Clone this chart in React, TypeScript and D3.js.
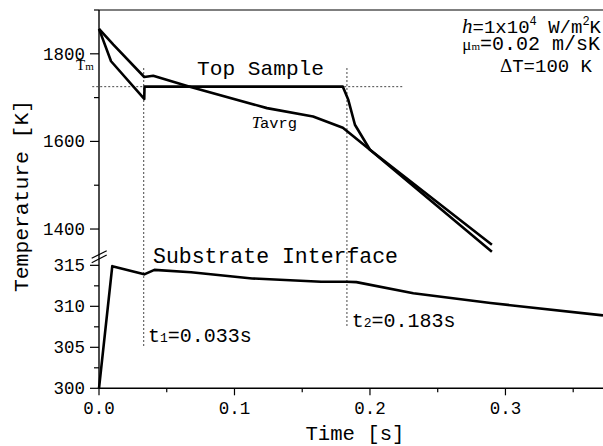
import React from "react";
import * as d3 from "d3";

// ---- data ----
const surfTime = [0, 0.0089, 0.0334, 0.0336, 0.180, 0.184, 0.1889, 0.200, 0.290];
const surfTemp = [1857, 1783, 1697, 1725, 1725, 1695, 1638, 1581, 1348];

const avgTime = [0, 0.0106, 0.0334, 0.040, 0.067, 0.124, 0.158, 0.180, 0.200, 0.290];
const avgTemp = [1857, 1821, 1747, 1750, 1725, 1676, 1657, 1631, 1581, 1364];

const subTime = [0, 0.0098, 0.0334, 0.0409, 0.068, 0.113, 0.164, 0.183, 0.190, 0.232, 0.289, 0.372];
const subTemp = [300, 314.9, 313.9, 314.45, 314.16, 313.4, 313.0, 313.0, 312.95, 311.6, 310.4, 308.9];

const xMajor = [0, 0.1, 0.2, 0.3];
const xMinor = [0.05, 0.15, 0.25, 0.35];
const topMajor = [1400, 1600, 1800];
const topMinor = [1500, 1700, 1900];
const botMajor = [300, 305, 310, 315];
const botMinor = [302.5, 307.5, 312.5];

const meltTemp = 1725;
const t1 = 0.033;
const t2 = 0.183;

const MONO = "'Liberation Mono', 'DejaVu Sans Mono', monospace";
const SERIF = "'Liberation Serif', 'DejaVu Serif', serif";

export default function App() {
  const W = 603, H = 446;
  const left = 99, right = 603, top = 10, bottom = 388.3, brk = 255;

  const x = d3.scaleLinear().domain([0, 0.372]).range([left, right]);
  const yTop = d3.scaleLinear().domain([1340.7, 1900]).range([brk, top]);
  const yBot = d3.scaleLinear().domain([300, 316.26]).range([bottom, brk]);

  const lineTop = d3.line<[number, number]>().x(d => x(d[0])).y(d => yTop(d[1]));
  const lineBot = d3.line<[number, number]>().x(d => x(d[0])).y(d => yBot(d[1]));

  const surf = lineTop(surfTime.map((t, i) => [t, surfTemp[i]]) as [number, number][]);
  const avg = lineTop(avgTime.map((t, i) => [t, avgTemp[i]]) as [number, number][]);
  const sub = lineBot(subTime.map((t, i) => [t, subTemp[i]]) as [number, number][]);

  const lw = 2.6;

  return (
    <svg width={W} height={H} style={{ position: "absolute", left: 0, top: 0, background: "#fff" }}>
      <rect x={0} y={0} width={W} height={H} fill="#fff" />
      {/* axes */}
      <line x1={left} x2={right} y1={top} y2={top} stroke="#000" strokeWidth={1.2} />
      <line x1={left} x2={left} y1={top} y2={bottom} stroke="#000" strokeWidth={1.4} />
      <line x1={left} x2={right} y1={bottom} y2={bottom} stroke="#000" strokeWidth={1.4} />

      {/* x ticks */}
      {xMajor.map(t => (
        <g key={"xm" + t}>
          <line x1={x(t)} x2={x(t)} y1={bottom} y2={bottom + 7} stroke="#000" strokeWidth={1.2} />
          <text x={x(t)} y={414} textAnchor="middle" fontFamily={MONO} fontSize={17.5}>{t.toFixed(1)}</text>
        </g>
      ))}
      {xMinor.map(t => (
        <line key={"xn" + t} x1={x(t)} x2={x(t)} y1={bottom} y2={bottom + 4} stroke="#000" strokeWidth={1.2} />
      ))}

      {/* y ticks top */}
      {topMajor.map(v => (
        <g key={"tm" + v}>
          <line x1={left - 9} x2={left} y1={yTop(v)} y2={yTop(v)} stroke="#000" strokeWidth={1.2} />
          <text x={85} y={yTop(v) + 6} textAnchor="end" fontFamily={MONO} fontSize={17.5}>{v}</text>
        </g>
      ))}
      {topMinor.map(v => (
        <line key={"tn" + v} x1={left - 5} x2={left} y1={yTop(v)} y2={yTop(v)} stroke="#000" strokeWidth={1.2} />
      ))}
      {/* y ticks bottom */}
      {botMajor.map(v => (
        <g key={"bm" + v}>
          <line x1={left - 9} x2={left} y1={yBot(v)} y2={yBot(v)} stroke="#000" strokeWidth={1.2} />
          <text x={85} y={yBot(v) + 6} textAnchor="end" fontFamily={MONO} fontSize={17.5}>{v}</text>
        </g>
      ))}
      {botMinor.map(v => (
        <line key={"bn" + v} x1={left - 5} x2={left} y1={yBot(v)} y2={yBot(v)} stroke="#000" strokeWidth={1.2} />
      ))}

      {/* axis break */}
      <line x1={91.7} y1={258.3} x2={106.7} y2={250.7} stroke="#000" strokeWidth={1.2} />
      <line x1={91.7} y1={262.7} x2={106.7} y2={255} stroke="#000" strokeWidth={1.2} />

      {/* dotted reference lines */}
      <line x1={x(-0.005)} x2={x(0.224)} y1={yTop(meltTemp)} y2={yTop(meltTemp)} stroke="#333" strokeWidth={0.9} strokeDasharray="2 2" />
      <line x1={x(t1)} x2={x(t1)} y1={68} y2={348} stroke="#333" strokeWidth={0.9} strokeDasharray="2 2" />
      <line x1={x(t2)} x2={x(t2)} y1={68} y2={328} stroke="#333" strokeWidth={0.9} strokeDasharray="2 2" />

      {/* curves */}
      <path d={surf || ""} fill="none" stroke="#000" strokeWidth={lw} strokeLinejoin="round" />
      <path d={avg || ""} fill="none" stroke="#000" strokeWidth={lw} strokeLinejoin="round" />
      <path d={sub || ""} fill="none" stroke="#000" strokeWidth={lw} strokeLinejoin="round" />

      {/* labels */}
      <text x={197} y={75} fontFamily={MONO} fontSize={21} textLength={127} lengthAdjust="spacingAndGlyphs">Top Sample</text>
      <text x={153} y={262.7} fontFamily={MONO} fontSize={22} textLength={245} lengthAdjust="spacingAndGlyphs">Substrate Interface</text>
      <text x={148} y={341.7} fontFamily={MONO} fontSize={20}>
        t<tspan fontSize={13}>1</tspan>=0.033s
      </text>
      <text x={351.7} y={326.7} fontFamily={MONO} fontSize={20}>
        t<tspan fontSize={13}>2</tspan>=0.183s
      </text>

      <text x={76} y={70} fontFamily={SERIF} fontSize={15}>
        T<tspan fontSize={11}>m</tspan>
      </text>
      <text x={251.7} y={127.5} fontFamily={SERIF} fontSize={17} fontStyle="italic">T</text>
      <text x={260} y={127.5} fontFamily={MONO} fontSize={14} textLength={37} lengthAdjust="spacingAndGlyphs">avrg</text>

      {/* parameters */}
      <text x={601} y={33} textAnchor="end" fontFamily={MONO} fontSize={19}>
        <tspan fontFamily={SERIF} fontStyle="italic" fontSize={21}>h</tspan>=1x10<tspan fontSize={12} dy={-8}>4</tspan><tspan dy={8}> W/m</tspan><tspan fontSize={12} dy={-8}>2</tspan><tspan dy={8}>K</tspan>
      </text>
      <text x={600} y={50} textAnchor="end" fontFamily={MONO} fontSize={20}>
        <tspan fontFamily={SERIF} fontSize={17}>μ</tspan><tspan fontFamily={SERIF} fontSize={11}>m</tspan>=0.02 m/sK
      </text>
      <text x={592} y={71.5} textAnchor="end" fontFamily={MONO} fontSize={19}>
        <tspan fontFamily={SERIF}>Δ</tspan>T=100 K
      </text>

      {/* axis titles */}
      <text x={355} y={440} textAnchor="middle" fontFamily={MONO} fontSize={21} textLength={99} lengthAdjust="spacingAndGlyphs">Time [s]</text>
      <text transform="translate(28, 196) rotate(-90)" textAnchor="middle" fontFamily={MONO} fontSize={21} textLength={192} lengthAdjust="spacingAndGlyphs">Temperature [K]</text>
    </svg>
  );
}
